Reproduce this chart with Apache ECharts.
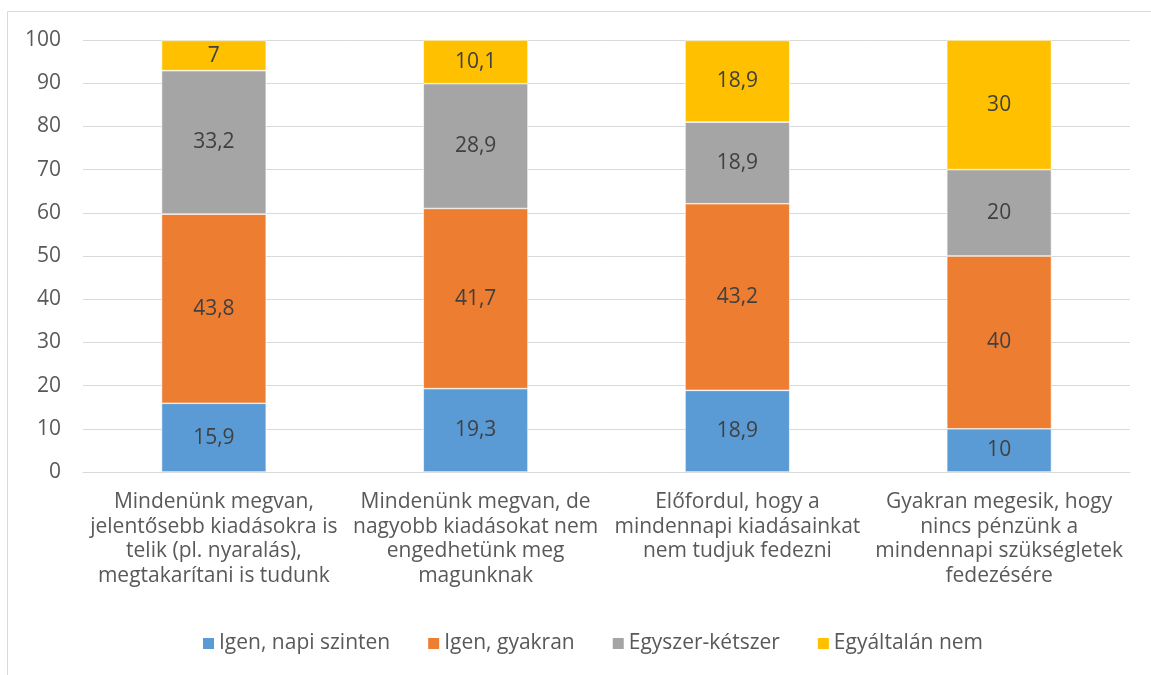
<!DOCTYPE html>
<html>
<head>
<meta charset="utf-8">
<script src="https://cdn.jsdelivr.net/npm/echarts@6/dist/echarts.min.js"></script>
<style>
  html, body { margin: 0; padding: 0; background: #fff; }
  #chart { width: 1151px; height: 675px; }
</style>
</head>
<body>
<div id="chart"></div>
<script>
// Categories (x axis)
const categories = [
  'Mindenünk megvan,\njelentősebb kiadásokra is\ntelik (pl. nyaralás),\nmegtakarítani is tudunk',
  'Mindenünk megvan, de\nnagyobb kiadásokat nem\nengedhetünk meg\nmagunknak',
  'Előfordul, hogy a\nmindennapi kiadásainkat\nnem tudjuk fedezni',
  'Gyakran megesik, hogy\nnincs pénzünk a\nmindennapi szükségletek\nfedezésére'
];

// Series names
const seriesNames = ['Igen, napi szinten', 'Igen, gyakran', 'Egyszer-kétszer', 'Egyáltalán nem'];

// Series values (percent)
const napiSzinten = [15.9, 19.3, 18.9, 10];
const gyakran = [43.8, 41.7, 43.2, 40];
const egyszerKetszer = [33.2, 28.9, 18.9, 20];
const egyaltalanNem = [7, 10.1, 18.9, 30];

const seriesValues = [napiSzinten, gyakran, egyszerKetszer, egyaltalanNem];
const colors = ['#5B9BD5', '#ED7D31', '#A5A5A5', '#FFC000'];

const FONT = '"Open Sans", Lato, sans-serif';
const TEXT = '#595959';
const FS = 21;

const chart = echarts.init(document.getElementById('chart'), null, { renderer: 'canvas' });

chart.setOption({
  animation: false,
  textStyle: { fontFamily: FONT },
  color: colors,
  graphic: [{
    type: 'rect',
    shape: { x: 7.5, y: 11.5, width: 1160, height: 700 },
    style: { fill: 'none', stroke: '#D9D9D9', lineWidth: 1 },
    silent: true
  }],
  grid: { left: 83, right: 21, top: 40, bottom: 203, containLabel: false },
  legend: {
    bottom: 16,
    left: 196,
    itemWidth: 13,
    itemHeight: 13,
    itemGap: 36,
    icon: 'rect',
    textStyle: { color: TEXT, fontSize: FS, fontFamily: FONT, padding: [0, 0, 0, -1] },
    data: seriesNames
  },
  xAxis: {
    type: 'category',
    data: categories,
    axisLine: { show: true, lineStyle: { color: '#D9D9D9', width: 1 } },
    axisTick: { show: false },
    axisLabel: {
      color: TEXT, fontSize: FS, fontFamily: FONT,
      lineHeight: 24.5, margin: 18, interval: 0
    }
  },
  yAxis: {
    type: 'value',
    min: 0, max: 100, interval: 10,
    axisLine: { show: false },
    axisTick: { show: false },
    splitLine: { lineStyle: { color: '#D9D9D9', width: 1 } },
    axisLabel: { color: TEXT, fontSize: FS, fontFamily: FONT, margin: 22 }
  },
  series: seriesNames.map((name, i) => ({
    name,
    type: 'bar',
    stack: 'total',
    barWidth: '40%',
    data: seriesValues[i],
    itemStyle: { color: colors[i], borderColor: '#ffffff', borderWidth: 0.6 },
    label: {
      show: true,
      position: 'inside',
      color: '#404040',
      fontSize: FS,
      fontFamily: FONT,
      formatter: p => String(p.value).replace('.', ',')
    }
  }))
});
</script>
</body>
</html>
